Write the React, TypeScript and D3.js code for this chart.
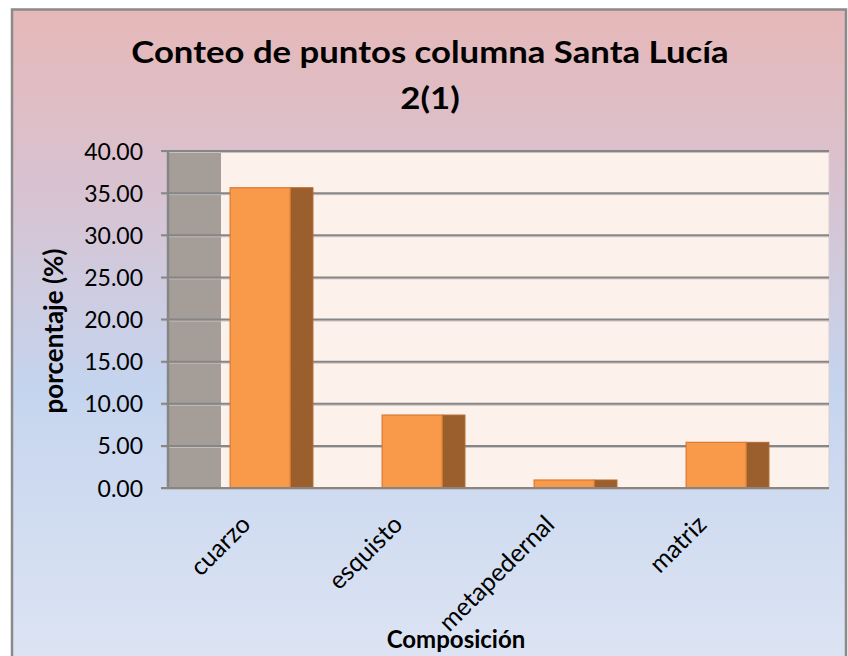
import React from "react";
import * as d3 from "d3";

const categories = ["cuarzo", "esquisto", "metapedernal", "matriz"];
const values = [35.64, 8.66, 0.95, 5.42];
const yTicks = [0, 5, 10, 15, 20, 25, 30, 35, 40];
const titleLines = ["Conteo de puntos columna Santa Lucía", "2(1)"];
const yTitle = "porcentaje (%)";
const xTitle = "Composición";

const W = 848;
const H = 656;
const FONT = "Lato, 'Open Sans', sans-serif";

export default function App() {
  const wallX0 = 168;
  const innerX0 = 221;
  const innerX1 = 829;
  const yTop = 151;
  const yBot = 488;

  const x = d3.scaleBand<string>().domain(categories).range([innerX0, innerX1]).paddingInner(0).paddingOuter(0);
  const y = d3.scaleLinear().domain([0, 40]).range([yBot, yTop]);
  const bw = x.bandwidth();
  const off = bw * 0.06;
  const frontW = bw * 0.395;
  const sideW = bw * 0.15;

  return (
    <svg width={W} height={H} style={{ position: "absolute", left: 0, top: 0 }} fontFamily={FONT}>
      <defs>
        <linearGradient id="bg" x1="0" y1="0" x2="0" y2="1">
          <stop offset="0" stopColor="#e6b8b8" />
          <stop offset="0.25" stopColor="#d9c2d0" />
          <stop offset="0.55" stopColor="#c5d4ee" />
          <stop offset="1" stopColor="#dfe6f4" />
        </linearGradient>
      </defs>
      <rect x={0} y={0} width={W} height={H} fill="#ffffff" />
      <rect x={12} y={9.5} width={834} height={680} fill="url(#bg)" stroke="#8a8a8a" strokeWidth={2.5} />

      {titleLines.map((t, i) => (
        <text
          key={i}
          transform={`translate(430, ${63 + i * 46}) scale(1.12, 1)`}
          textAnchor="middle"
          fontSize={31}
          fontWeight="bold"
          fill="#000"
        >
          {t}
        </text>
      ))}

      {/* plot walls */}
      <rect x={wallX0} y={yTop} width={innerX0 - wallX0} height={yBot - yTop} fill="#a59d97" />
      <rect x={innerX0} y={yTop} width={innerX1 - innerX0} height={yBot - yTop} fill="#fdf1ec" />
      <line x1={innerX1} x2={innerX1} y1={yTop} y2={yBot} stroke="#d8cfcc" strokeWidth={1} />

      {/* gridlines */}
      {yTicks.map((t) => (
        <g key={t}>
          <line x1={161} x2={innerX1} y1={y(t) + 1.5} y2={y(t) + 1.5} stroke="#c9c1bf" strokeWidth={1} />
          <line x1={161} x2={innerX1} y1={y(t)} y2={y(t)} stroke="#868686" strokeWidth={2} />
          <text x={143} y={y(t) + 8.5} textAnchor="end" fontSize={23} fill="#000">
            {d3.format(".2f")(t)}
          </text>
        </g>
      ))}
      <line x1={wallX0} x2={wallX0} y1={yTop} y2={yBot} stroke="#868686" strokeWidth={2.5} />

      {/* bars */}
      {categories.map((c, i) => {
        const x0 = (x(c) as number) + off;
        const top = y(values[i]);
        return (
          <g key={c}>
            <rect x={x0 + frontW} y={top} width={sideW} height={yBot - top} fill="#9b5e2d" stroke="#b8692c" strokeWidth={1} />
            <rect x={x0} y={top} width={frontW} height={yBot - top} fill="#f99a4a" stroke="#d97a30" strokeWidth={1.2} />
          </g>
        );
      })}
      <line x1={161} x2={innerX1} y1={yBot} y2={yBot} stroke="#868686" strokeWidth={2} />

      {/* category labels */}
      {categories.map((c) => {
        const ax = (x(c) as number) + 31;
        const ay = 526;
        return (
          <text key={c} x={ax} y={ay} transform={`rotate(-45, ${ax}, ${ay})`} textAnchor="end" fontSize={25} fill="#000">
            {c}
          </text>
        );
      })}

      <text x={63} y={331} transform="rotate(-90, 63, 331)" textAnchor="middle" fontSize={26} fontWeight="bold" fill="#000">
        {yTitle}
      </text>
      <text x={456} y={648} textAnchor="middle" fontSize={24} fontWeight="bold" fill="#000">
        {xTitle}
      </text>
    </svg>
  );
}
